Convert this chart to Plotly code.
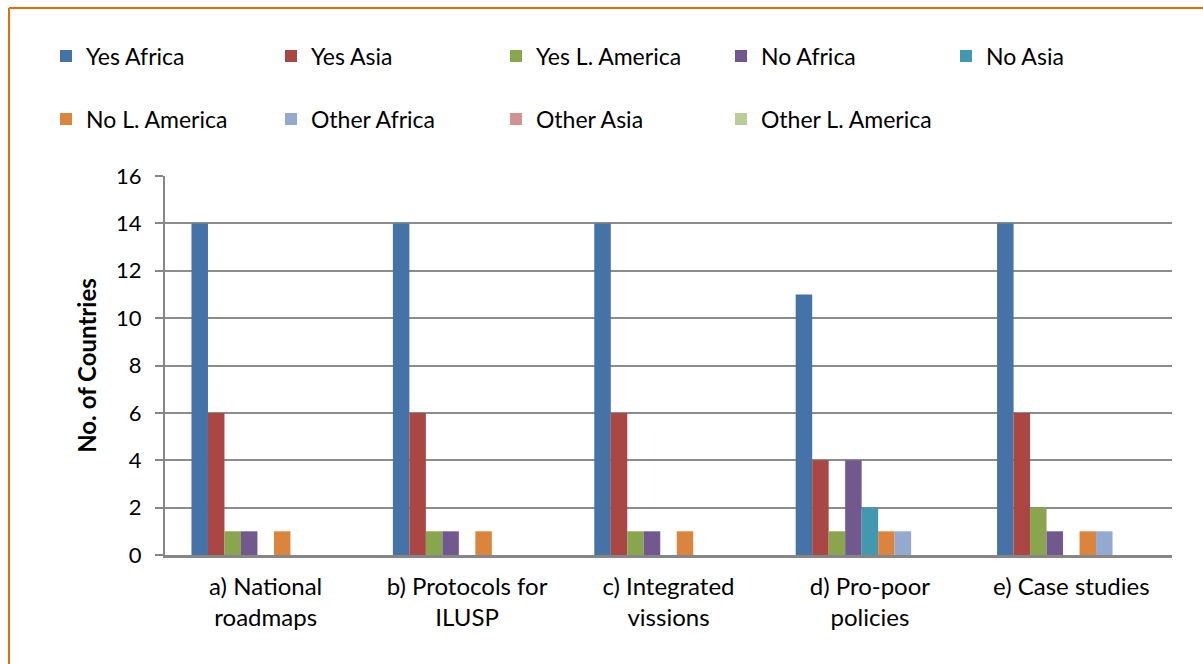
import plotly.graph_objects as go

categories = ["a) National<br>roadmaps", "b) Protocols for<br>ILUSP", "c) Integrated<br>vissions",
              "d) Pro-poor<br>policies", "e) Case studies"]

yes_africa = [14, 14, 14, 11, 14]
yes_asia = [6, 6, 6, 4, 6]
yes_lamerica = [1, 1, 1, 1, 2]
no_africa = [1, 1, 1, 4, 1]
no_asia = [0, 0, 0, 2, 0]
no_lamerica = [1, 1, 1, 1, 1]
other_africa = [0, 0, 0, 1, 1]
other_asia = [0, 0, 0, 0, 0]
other_lamerica = [0, 0, 0, 0, 0]

series = [
    ("Yes Africa", yes_africa, "#4572A7", "legend"),
    ("Yes Asia", yes_asia, "#AA4643", "legend"),
    ("Yes L. America", yes_lamerica, "#89A54E", "legend"),
    ("No Africa", no_africa, "#71588F", "legend"),
    ("No Asia", no_asia, "#4198AF", "legend"),
    ("No L. America", no_lamerica, "#DB843D", "legend2"),
    ("Other Africa", other_africa, "#93A9CF", "legend2"),
    ("Other Asia", other_asia, "#D19392", "legend2"),
    ("Other L. America", other_lamerica, "#B9CD96", "legend2"),
]

FONT = "Lato, 'Open Sans', sans-serif"

fig = go.Figure()
for name, vals, color, lg in series:
    fig.add_trace(go.Bar(name=name, x=categories, y=vals, marker_color=color,
                         marker_line_width=0, legend=lg))

W, H = 1203, 664
L, R, T, B = 165, 31, 176, 109
pw, ph = W - L - R, H - T - B

def px_x(x):
    return (x - L) / pw

def px_y(y):
    return (H - B - y) / ph

legend_common = dict(orientation="h", xanchor="left", yanchor="middle",
                     font=dict(family=FONT, size=23, color="#000000"),
                     entrywidth=180, entrywidthmode="pixels",
                     bgcolor="rgba(0,0,0,0)", itemclick=False)

fig.update_layout(
    width=W, height=H,
    margin=dict(l=L, r=R, t=T, b=B, pad=0),
    paper_bgcolor="white", plot_bgcolor="white",
    barmode="group", bargap=0.263, bargroupgap=0,
    font=dict(family=FONT, size=20, color="#000000"),
    legend=dict(x=px_x(46), y=px_y(56), **legend_common),
    legend2=dict(x=px_x(46), y=px_y(119), **legend_common),
    xaxis=dict(showline=True, linecolor="#868686", linewidth=3, ticks="",
               tickfont=dict(family=FONT, size=24), showgrid=False,
               ticklabelstandoff=8),
    yaxis=dict(range=[0, 16], dtick=2, showline=True, linecolor="#868686", linewidth=2,
               ticks="outside", ticklen=8, tickcolor="#868686", tickwidth=2,
               showgrid=True, gridcolor="#8c8c8c", gridwidth=2, zeroline=False,
               tickfont=dict(family=FONT, size=22), ticklabelstandoff=9,
               title=dict(text="<b>No. of Countries</b>", font=dict(family=FONT, size=24),
                          standoff=13)),
    shapes=[
        dict(type="line", xref="paper", yref="paper", x0=px_x(9), x1=px_x(1210),
             y0=px_y(8), y1=px_y(8), line=dict(color="#E46C0A", width=2)),
        dict(type="line", xref="paper", yref="paper", x0=px_x(9), x1=px_x(9),
             y0=px_y(8), y1=px_y(670), line=dict(color="#E46C0A", width=2)),
    ],
)

fig.write_html("out.html")
